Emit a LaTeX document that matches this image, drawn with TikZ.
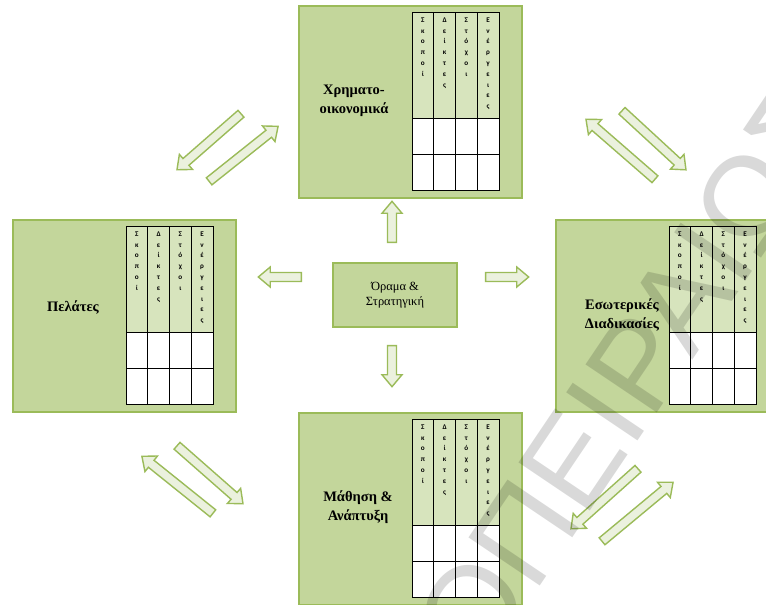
\documentclass[tikz,border=0pt]{standalone}
\usepackage{fontspec}
\setmainfont{Liberation Serif}
\newfontfamily\headfont{Carlito}
\newfontfamily\wmfont{Liberation Sans}
\usetikzlibrary{shapes.arrows,calc}

\definecolor{boxfill}{HTML}{C3D69B}
\definecolor{boxline}{HTML}{9BBB59}
\definecolor{headfill}{HTML}{D7E4BD}
\definecolor{arrowfill}{HTML}{EBF1DE}

% score table in the right part of a perspective panel
\newcommand\scoretable[1]{%
  \begin{scope}[shift={($(#1.north west)+(114,7)$)}]
    \fill[headfill] (0,0) rectangle (87,106);
    \fill[white] (0,106) rectangle (87,178);
    \draw[gridline] (0,0) rectangle (87,178);
    \draw[gridline] (0,106) -- (87,106) (0,142) -- (87,142);
    \draw[gridline] (21.75,0) -- (21.75,178) (43.5,0) -- (43.5,178) (65.25,0) -- (65.25,178);
    \node[colhead] (#1-c1) at (10.9,5.5) {Σ\\κ\\ο\\π\\ο\\ί};
    \node[colhead] (#1-c2) at (32.6,5.5) {Δ\\ε\\ί\\κ\\τ\\ε\\ς};
    \node[colhead] (#1-c3) at (54.4,5.5) {Σ\\τ\\ό\\χ\\ο\\ι};
    \node[colhead] (#1-c4) at (76.1,5.5) {Ε\\ν\\έ\\ρ\\γ\\ε\\ι\\ε\\ς};
  \end{scope}}

% hollow block arrow from a tail point to a tip point
\newcommand\blockarrow[3]{%
  \path let \p1=($(#3)-(#2)$), \n1={atan2(\y1,\x1)}, \n2={veclen(\x1,\y1)} in
    node[barrow, minimum height=\n2, rotate=\n1] (#1) at ($(#2)!0.5!(#3)$) {};}

\begin{document}
\begin{tikzpicture}[x=1pt,y=-1pt,
  panel/.style={draw=boxline, line width=2pt, fill=boxfill, minimum width=223pt,
    minimum height=192pt, anchor=north west, inner sep=0pt},
  core/.style={draw=boxline, line width=2pt, fill=boxfill, minimum width=124pt,
    minimum height=64pt, inner sep=0pt, align=center, font=\fontsize{12.5}{15}\selectfont},
  gridline/.style={line width=0.9pt, black},
  colhead/.style={anchor=north, inner sep=0pt, align=center,
    font=\headfont\bfseries\fontsize{7.2}{10.8}\selectfont},
  ptitle/.style={align=center, inner sep=0pt, font=\bfseries\fontsize{14.5}{19}\selectfont},
  barrow/.style={single arrow, draw=boxline, line width=1.4pt, fill=arrowfill,
    inner xsep=0pt, inner ysep=3.8pt, single arrow head extend=5.5pt,
    single arrow tip angle=80}]
\useasboundingbox (0,0) rectangle (766,605);
\clip (0,0) rectangle (766,605);
\fill[white] (0,0) rectangle (766,605);

% the four perspective panels
\node[panel] (fin) at (298,5) {};
\node[panel] (cust) at (12,219) {};
\node[panel] (proc) at (555,219) {};
\node[panel] (learn) at (298,412) {};
\scoretable{fin}
\scoretable{cust}
\scoretable{proc}
\scoretable{learn}

\node[ptitle] (fin-t) at (354,101) {Χρηματο-\\οικονομικά};
\node[ptitle] (cust-t) at (73,307) {Πελάτες};
\node[ptitle] (proc-t) at (622,315) {Εσωτερικές\\Διαδικασίες};
\node[ptitle] (learn-t) at (358,507) {Μάθηση \&\\Ανάπτυξη};

% vision and strategy in the middle
\node[core] (vision) at (395,295) {Όραμα \&\\Στρατηγική};

% arrows from the centre
\blockarrow{up}{392,245}{392,204}
\blockarrow{down}{392,343}{392,384}
\blockarrow{left}{304,277}{261,277}
\blockarrow{right}{483,277}{526,277}

% paired arrows between neighbouring perspectives
\blockarrow{tl1}{243,112}{179,168}
\blockarrow{tl2}{207,183}{276,128}
\blockarrow{tr1}{620,109}{684,168}
\blockarrow{tr2}{657,181}{588,121}
\blockarrow{bl1}{175,444}{241,502}
\blockarrow{bl2}{215,515}{144,458}
\blockarrow{br1}{640,467}{573,527}
\blockarrow{br2}{600,543}{671,484}

% watermark
\node[rotate=56, anchor=base west, inner sep=0pt, text=black, text opacity=0.15,
  font=\wmfont\fontsize{125}{125}\selectfont] (mark) at (480,675) {ΟΠΕΙΡΑΙΩΣ};
\end{tikzpicture}
\end{document}
